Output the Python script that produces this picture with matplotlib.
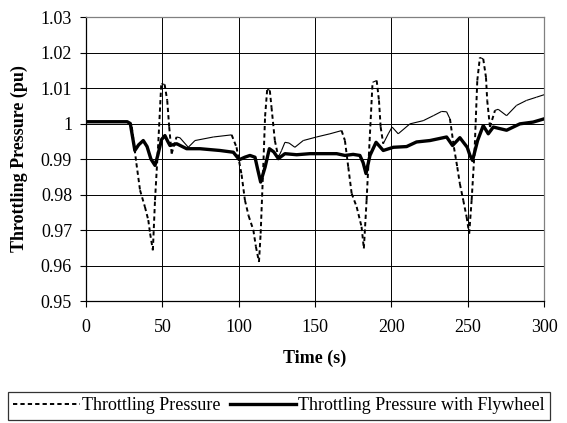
import numpy as np
import matplotlib
matplotlib.use("Agg")
import matplotlib.pyplot as plt
from matplotlib.collections import LineCollection
from matplotlib.lines import Line2D

# ---------------- data ----------------
t_tp = [0, 27, 30, 33, 35.4, 38.6, 40.8, 42, 43.8, 45.2, 47.4, 49.3, 51.5, 53.2, 54.5, 56.1,
        59.3, 61.5, 67, 71.4, 83.4, 95.4, 98.6, 101.9, 104.1, 106.5, 109.6, 111.3, 113.3,
        114.4, 116.1, 117.3, 118.7, 120.4, 121.5, 123.7, 126, 128.1, 130.3, 133, 136.8,
        142.3, 151, 159.8, 167.4, 169.6, 171.8, 174, 177.3, 180.5, 182, 183.8, 186, 187.7,
        190.4, 191.9, 193, 194.7, 198, 200.5, 204.5, 212.2, 220.9, 227.5, 232.9, 236.2,
        238.4, 241, 243.2, 244.9, 247.1, 249.3, 251, 252.6, 254.5, 256.3, 258, 260.2, 262,
        262.8, 264.6, 267.9, 270, 275.5, 282, 288.5, 295, 300]
v_tp = [1.0005, 1.0005, 0.999, 0.9888, 0.9812, 0.9765, 0.9728, 0.969, 0.9643, 0.9784, 0.995,
        1.0112, 1.011, 1.0065, 0.999, 0.9915, 0.9962, 0.996, 0.9933, 0.9952, 0.9962, 0.9968,
        0.9933, 0.9856, 0.9784, 0.974, 0.970, 0.9653, 0.961, 0.969, 0.9877, 1.002, 1.0097,
        1.0093, 1.0046, 0.9952, 0.9905, 0.9924, 0.9947, 0.9945, 0.9933, 0.9952, 0.9962,
        0.9971, 0.998, 0.9952, 0.9877, 0.9803, 0.9765, 0.9709, 0.9648, 0.9784, 0.9971,
        1.0116, 1.0121, 1.0065, 0.999, 0.9943, 0.9971, 0.999, 0.9971, 0.9999, 1.0008,
        1.0022, 1.0034, 1.0033, 1.0013, 0.9933, 0.9877, 0.983, 0.9784, 0.9737, 0.969,
        0.9784, 0.992, 1.0121, 1.0186, 1.0182, 1.013, 1.0065, 0.999, 1.0037, 1.004,
        1.0022, 1.0051, 1.0065, 1.0074, 1.0081]

t_fw = [0, 27, 29, 32, 34.5, 37.5, 40, 42.5, 45.2, 47, 49.5, 51.7, 53.5, 55, 59.4, 65.9, 74.6,
        87.7, 96.5, 100.4, 104, 107.4, 110.7, 112.5, 114.4, 117.3, 120.1, 123, 126, 130.3,
        138, 146.7, 164.2, 169.6, 175, 179.4, 181.5, 183.4, 186, 190, 194.7, 201.3, 210,
        216.5, 225.3, 236.2, 240.1, 244.9, 249.7, 251.5, 253.2, 256.5, 260.2, 263.5, 266.8,
        275.5, 284.2, 292.9, 300]
v_fw = [1.0005, 1.0005, 1.0, 0.9924, 0.994, 0.9952, 0.9935, 0.990, 0.9882, 0.991, 0.9955,
        0.9966, 0.995, 0.9938, 0.9943, 0.9929, 0.9929, 0.9924, 0.9919, 0.9898, 0.9905, 0.991,
        0.9905, 0.987, 0.9835, 0.9877, 0.9929, 0.992, 0.9901, 0.9915, 0.9912, 0.9915, 0.9915,
        0.991, 0.9913, 0.991, 0.989, 0.9859, 0.991, 0.9947, 0.9924, 0.9933, 0.9935, 0.9948,
        0.9952, 0.9962, 0.9938, 0.996, 0.9933, 0.991, 0.9896, 0.9952, 0.9994, 0.9971, 0.999,
        0.9981, 0.9999, 1.0004, 1.0013]

x_ticks = [0, 50, 100, 150, 200, 250, 300]
y_ticks = [0.95, 0.96, 0.97, 0.98, 0.99, 1.0, 1.01, 1.02, 1.03]
y_tick_labels = ["0.95", "0.96", "0.97", "0.98", "0.99", "1", "1.01", "1.02", "1.03"]
series_names = ["Throttling Pressure", "Throttling Pressure with Flywheel"]
x_label = "Time (s)"
y_label = "Throttling Pressure (pu)"

# ---------------- figure ----------------
plt.rcParams['font.family'] = ['Liberation Serif', 'DejaVu Serif']
W, H = 567, 423
fig = plt.figure(figsize=(W / 100, H / 100), dpi=100)
L, R, T, B = 86, 544, 17, 301
ax = fig.add_axes([L / W, 1 - B / H, (R - L) / W, (B - T) / H])

ax.set_xlim(0, 300)
ax.set_ylim(0.95, 1.03)
ax.set_xticks(x_ticks)
ax.set_yticks(y_ticks)
ax.set_yticklabels(y_tick_labels)
ax.grid(True, color='black', linewidth=0.7)
ax.set_axisbelow(True)
for s in ['top', 'right']:
    ax.spines[s].set_color('#808080')
for s in ['left', 'bottom']:
    ax.spines[s].set_color('black')
for s in ax.spines.values():
    s.set_linewidth(0.9)
ax.tick_params(direction='out', length=4, width=0.8, labelsize=13, pad=6)
ax.tick_params(axis='x', pad=9)

# thin series: steep segments dashed, flat segments thin solid (Excel-like)
tt = np.array(t_tp)
vv = np.array(v_tp)
px_per_t = (R - L) / 300.0
px_per_v = (B - T) / 0.08
steep, flat = [], []
for i in range(len(tt) - 1):
    seg = [(tt[i], vv[i]), (tt[i + 1], vv[i + 1])]
    dy = abs(vv[i + 1] - vv[i]) * px_per_v
    dx = abs(tt[i + 1] - tt[i]) * px_per_t
    (steep if dy > 2.5 * dx else flat).append(seg)
ax.add_collection(LineCollection(flat, colors='black', linewidths=0.8, zorder=3))
ax.add_collection(LineCollection(steep, colors='black', linewidths=1.4,
                                 linestyles=[(0, (2.2, 1.6))], zorder=3))

ax.plot(t_fw, v_fw, color='black', linewidth=2.4, solid_joinstyle='round', zorder=4)

ax.set_xlabel(x_label, fontsize=13, fontweight='bold', labelpad=10)
ax.set_ylabel(y_label, fontsize=13, fontweight='bold', labelpad=9)

handles = [Line2D([], [], color='black', linewidth=1.4, linestyle=(0, (2.2, 1.6))),
           Line2D([], [], color='black', linewidth=2.4)]
leg = fig.legend(handles, series_names, loc='upper left', bbox_to_anchor=(8 / W, 1 - 392 / H),
                 ncol=2, frameon=True, fancybox=False, edgecolor='black', fontsize=13,
                 handlelength=3.7, handletextpad=0.1, columnspacing=0.5, borderpad=0.3,
                 borderaxespad=0)
leg.get_frame().set_linewidth(0.9)

fig.savefig('out.png', dpi=100)
